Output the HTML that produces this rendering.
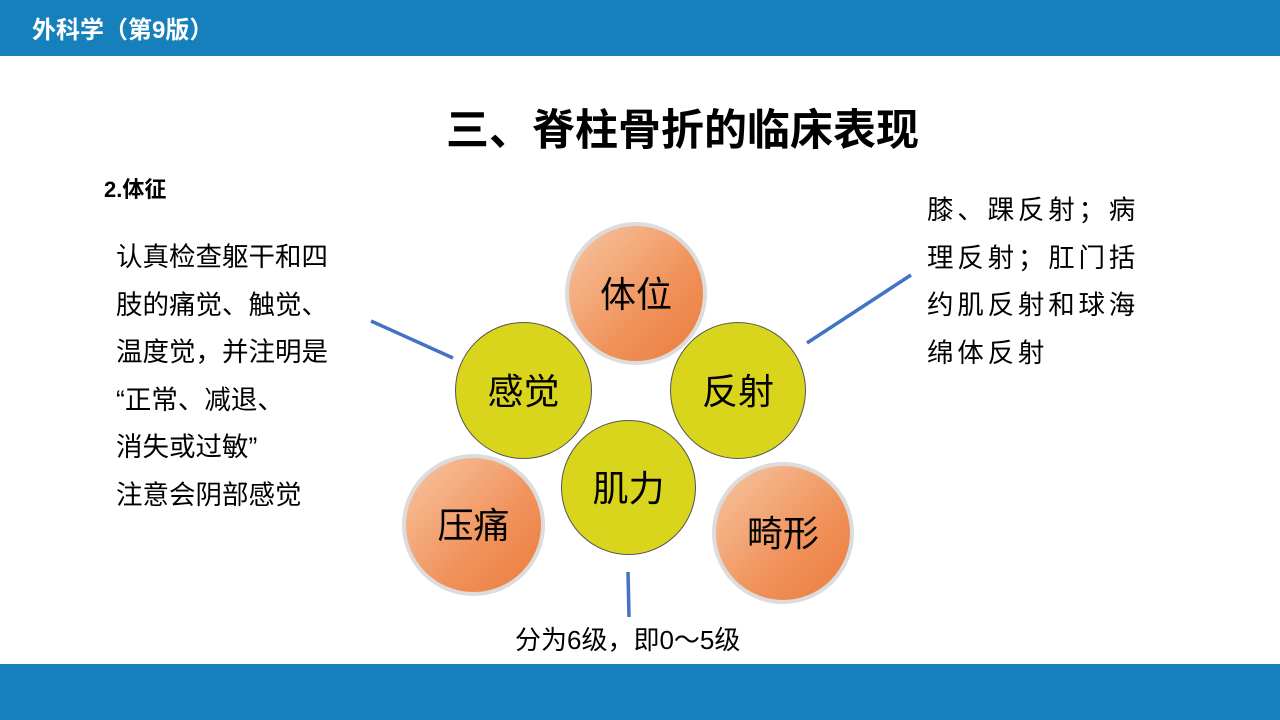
<!DOCTYPE html>
<html><head><meta charset="utf-8"><style>
body{margin:0;width:1280px;height:720px;position:relative;background:#fff;font-family:"Liberation Sans","Noto Sans CJK SC",sans-serif;overflow:hidden}
.bar{position:absolute;left:0;width:1280px;background:#1580bb}
.t{position:absolute;white-space:nowrap}
.c{position:absolute;border-radius:50%;display:flex;align-items:center;justify-content:center;font-size:36px;color:#000;box-sizing:border-box;padding-bottom:4px}
.o{background:linear-gradient(135deg,#f7c6a3 0%,#f0925a 60%,#ec7c3e 100%);border:4px solid #dcdcdc}
.y{background:#d9d41c;border:1px solid #555}
</style></head><body>
<div class="bar" style="top:0;height:56px"></div>
<div class="t" style="left:32px;top:10px;color:#fff;font-size:24px;font-weight:bold">外科学（第9版）</div>
<div class="t" style="left:446px;top:96px;font-size:43px;font-weight:bold">三、脊柱骨折的临床表现</div>
<div class="t" style="left:104px;top:172px;font-size:22px;font-weight:bold">2.体征</div>
<div class="t" style="left:116px;top:234px;font-size:26.5px;line-height:47.5px">认真检查躯干和四<br>肢的痛觉、触觉、<br>温度觉，并注明是<br>“正常、减退、<br>消失或过敏”<br><span style="line-height:30px">注意会阴部感觉</span></div>
<div class="t" style="left:927px;top:187px;font-size:26.5px;letter-spacing:3.8px;line-height:47.5px">膝、踝反射；病<br>理反射；肛门括<br>约肌反射和球海<br>绵体反射</div>
<div class="t" style="left:515px;top:620px;font-size:26px">分为6级，即0～5级</div>
<svg style="position:absolute;left:0;top:0" width="1280" height="720">
<g stroke="#4472c4" stroke-width="3.5"><line x1="371" y1="321" x2="453" y2="358"/><line x1="807" y1="343" x2="911" y2="275"/><line x1="628" y1="572" x2="629" y2="617"/></g></svg>
<div class="c o" style="left:565px;top:222px;width:142px;height:143px">体位</div>
<div class="c y" style="left:455px;top:322px;width:137px;height:137px">感觉</div>
<div class="c y" style="left:670px;top:322px;width:136px;height:137px">反射</div>
<div class="c o" style="left:402px;top:454px;width:143px;height:142px">压痛</div>
<div class="c o" style="left:712px;top:462px;width:142px;height:142px">畸形</div>
<div class="c y" style="left:561px;top:420px;width:135px;height:135px">肌力</div>
<div class="bar" style="top:664px;height:56px"></div>
</body></html>
